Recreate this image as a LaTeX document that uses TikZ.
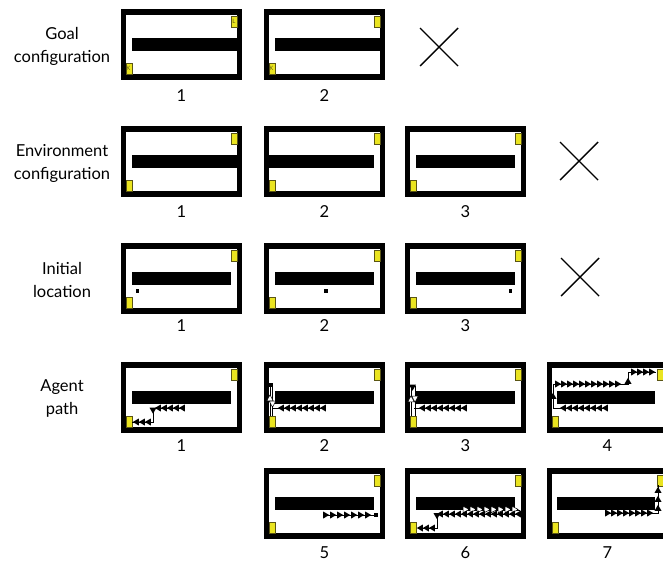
\documentclass[tikz,border=0pt]{standalone}
\usepackage{fontspec}
\setmainfont{Lato}
\definecolor{goalyellow}{RGB}{234,228,32}
\definecolor{goaledge}{RGB}{90,85,20}
\tikzset{
  goalsq/.style={fill=goalyellow,draw=goaledge,line width=0.5pt},
  cross/.style={line width=1.4pt},
  pathline/.style={line width=0.9pt},
  rowlabel/.style={align=center,font=\fontsize{16.5}{23}\selectfont},
  numlabel/.style={font=\fontsize{16.5}{18}\selectfont},
  tiny/.style={font=\fontsize{6}{6}\selectfont,inner sep=0pt,text=goaledge}
}
% box: x0, y0, bar left offset, bar right offset
\newcommand\gridbox[4]{%
  \fill (#1,#2) rectangle ++(121,71);
  \fill[white] (#1+5,#2+6) rectangle (#1+116,#2+65);
  \fill (#1+#3,#2+29) rectangle (#1+#4,#2+42);
  \filldraw[goalsq] (#1+110,#2+7) rectangle (#1+116,#2+18);
  \filldraw[goalsq] (#1+5,#2+54) rectangle (#1+11.5,#2+65);
}
\newcommand\mk[3]{\fill[shift={(#1,#2)},rotate=#3] (-2.8,-3.5) -- (3.2,0) -- (-2.8,3.5) -- cycle;}
\newcommand\hk[3]{\filldraw[fill=white,draw=black,line width=0.5pt,shift={(#1,#2)},rotate=#3] (-2.8,-3.2) -- (3.2,0) -- (-2.8,3.2) -- cycle;}
\begin{document}
\begin{tikzpicture}[x=1pt,y=-1pt]
\useasboundingbox (0,0) rectangle (663,563);
\fill[white] (0,0) rectangle (663,563);

% row labels
\node[rowlabel] (lgoal) at (62,46) {Goal\\configuration};
\node[rowlabel] (lenv) at (62,163) {Environment\\configuration};
\node[rowlabel] (linit) at (62,280) {Initial\\location};
\node[rowlabel] (lagent) at (62,398) {Agent\\path};

% Row 1: goal configuration
\gridbox{121}{9}{11}{116}
\gridbox{264}{9}{11}{116}
\node[tiny] (gl1) at (234,21.5) {L};
\node[tiny] (gk1) at (128.3,68.5) {K};
\node[tiny] (gk2) at (271.3,68.5) {K};
\node[numlabel] (n11) at (181.5,96) {1};
\node[numlabel] (n12) at (324.5,96) {2};
\draw[cross] (420,28) -- (458,66) (420,66) -- (458,28);

% Row 2: environment configuration
\gridbox{121}{126}{11}{116}
\gridbox{264}{126}{5}{110}
\gridbox{405}{126}{11}{110}
\node[numlabel] (n21) at (181.5,212) {1};
\node[numlabel] (n22) at (324.5,212) {2};
\node[numlabel] (n23) at (465.5,212) {3};
\draw[cross] (560,142) -- (598,180) (560,180) -- (598,142);

% Row 3: initial location
\gridbox{121}{243}{11}{110}
\gridbox{264}{243}{11}{110}
\gridbox{405}{243}{11}{110}
\fill (135.5,289) rectangle ++(3.5,3.5);
\fill (324,289) rectangle ++(3.5,3.5);
\fill (508.5,289) rectangle ++(3.5,3.5);
\node[numlabel] (n31) at (181.5,326) {1};
\node[numlabel] (n32) at (324.5,326) {2};
\node[numlabel] (n33) at (465.5,326) {3};
\draw[cross] (561,258) -- (599,296) (561,296) -- (599,258);

% Row 4: agent path
\gridbox{121}{362}{11}{110}
\gridbox{264}{362}{11}{110}
\gridbox{405}{362}{11}{110}
\gridbox{547}{362}{10}{108}
\node[numlabel] (n41) at (181.5,446) {1};
\node[numlabel] (n42) at (324.5,446) {2};
\node[numlabel] (n43) at (465.5,446) {3};
\node[numlabel] (n44) at (607.5,446) {4};

% path 1
\draw[pathline] (184,408) -- (153,408) -- (153,422) -- (132,422);
\foreach \x in {182,176,170,164,158} {\mk{\x}{408}{180}}
\mk{153}{410.5}{270}
\foreach \x in {148,142,136} {\mk{\x}{422}{180}}

% path 2
\draw[pathline] (326,408) -- (272,408);
\draw[pathline] (270,386) -- (270,416) (272.5,386) -- (272.5,416);
\fill (269,383) rectangle ++(4,4);
\hk{270}{398}{90}
\hk{272.5}{404}{270}
\foreach \x in {323,317,311,305,299,293,287,281} {\mk{\x}{408}{180}}

% path 3
\draw[pathline] (467,408) -- (414,408);
\draw[pathline] (411,386) -- (411,416) (415,386) -- (415,416);
\draw[pathline] (411,386) -- (415,386);
\hk{411}{399}{90}
\hk{415}{399}{270}
\mk{412.5}{387.5}{270}
\foreach \x in {464,458,452,446,440,434,428,422} {\mk{\x}{408}{180}}

% path 4
\draw[pathline] (608,408) -- (553,408) -- (553,384) -- (628,384) -- (628,372) -- (656,372);
\foreach \x in {605,599,593,587,581,575,569,563} {\mk{\x}{408}{180}}
\mk{553}{396}{90}
\foreach \x in {558,564,570,576,582,588,594,600,606,612,618} {\mk{\x}{384}{0}}
\mk{628}{381}{90}
\foreach \x in {634,640,646,652} {\mk{\x}{372}{0}}

% Row 5: agent path continued
\gridbox{264}{468}{11}{110}
\gridbox{405}{468}{11}{110}
\gridbox{547}{468}{10}{108}
\node[numlabel] (n55) at (324.5,553) {5};
\node[numlabel] (n56) at (465.5,553) {6};
\node[numlabel] (n57) at (607.5,553) {7};

% path 5
\draw[pathline] (323,515) -- (376,515);
\foreach \x in {326,333,340,347,354,361,368} {\mk{\x}{515}{0}}
\fill (374,513) rectangle ++(4,4);

% path 6
\draw[pathline] (463,510) -- (520,510);
\foreach \x in {466,473,480,487,494,501,508,515} {\hk{\x}{509.5}{0}}
\draw[pathline] (521,514) -- (437,514) -- (437,528) -- (418,528);
\foreach \x in {518,512,506,500,494,488,482,476,470,464,458,452,446,440} {\mk{\x}{514}{180}}
\mk{437}{516}{270}
\foreach \x in {432,426,420} {\mk{\x}{528}{180}}

% path 7
\draw[pathline] (605,513) -- (658,513) -- (658,485);
\foreach \x in {608,614,620,626,632,638,644,650} {\mk{\x}{513}{0}}
\foreach \y in {508,499,490} {\mk{658}{\y}{90}}
\end{tikzpicture}
\end{document}
